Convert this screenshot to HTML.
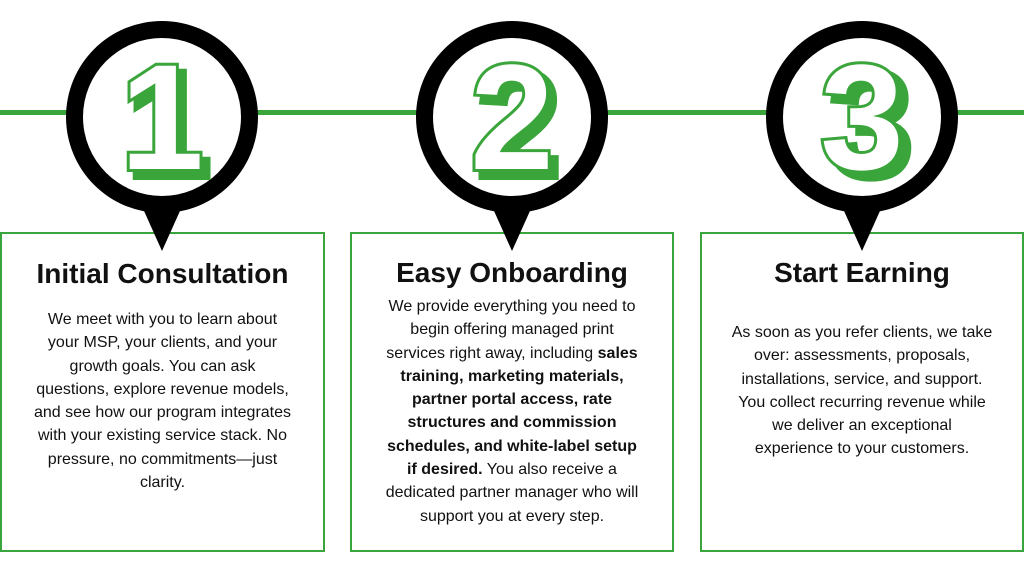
<!DOCTYPE html>
<html><head><style>
body{margin:0;width:1024px;height:576px;background:#fff;position:relative;overflow:hidden;font-family:"Liberation Sans",sans-serif;color:#111}
.box{position:absolute;top:232px;height:320px;border:2px solid #3aa53a;box-sizing:border-box}
.t{text-align:center;font-weight:bold;font-size:28px}
.b{position:absolute;text-align:center;font-size:16px;line-height:23.3px;white-space:nowrap}
</style></head><body>
<div style="position:absolute;left:0;top:110px;width:1024px;height:5px;background:#3aa53a"></div>
<div class="box" style="left:0;width:325px"></div>
<div class="box" style="left:350px;width:324px"></div>
<div class="box" style="left:700px;width:324px"></div>
<svg width="1024" height="260" style="position:absolute;left:0;top:0">
<g font-family="Liberation Sans" font-weight="bold" font-size="150" text-anchor="middle">
<g transform="translate(162,117)">
<circle r="96" fill="#000"/><polygon points="-22,85 22,85 0,134" fill="#000"/><circle r="79" fill="#fff"/>
<text x="7" y="59" fill="#3aa53a" stroke="#3aa53a" stroke-width="8">1</text><text x="0" y="52" fill="#fff" stroke="#3aa53a" stroke-width="6" paint-order="stroke">1</text></g>
<g transform="translate(512,117)">
<circle r="96" fill="#000"/><polygon points="-22,85 22,85 0,134" fill="#000"/><circle r="79" fill="#fff"/>
<text x="7" y="59" fill="#3aa53a" stroke="#3aa53a" stroke-width="8">2</text><text x="0" y="52" fill="#fff" stroke="#3aa53a" stroke-width="6" paint-order="stroke">2</text></g>
<g transform="translate(862,117)">
<circle r="96" fill="#000"/><polygon points="-22,85 22,85 0,134" fill="#000"/><circle r="79" fill="#fff"/>
<text x="9" y="59" fill="#3aa53a" stroke="#3aa53a" stroke-width="8">3</text><text x="0" y="52" fill="#fff" stroke="#3aa53a" stroke-width="6" paint-order="stroke">3</text></g>
</g></svg>
<div style="position:absolute;left:0;width:325px;top:258px" class="t">Initial Consultation</div>
<div class="b" style="left:0;width:325px;top:308px">We meet with you to learn about<br>your MSP, your clients, and your<br>growth goals. You can ask<br>questions, explore revenue models,<br>and see how our program integrates<br>with your existing service stack. No<br>pressure, no commitments—just<br>clarity.</div>
<div style="position:absolute;left:350px;width:324px;top:257px" class="t">Easy Onboarding</div>
<div class="b" style="left:350px;width:324px;top:295px">We provide everything you need to<br>begin offering managed print<br>services right away, including <b>sales<br>training, marketing materials,<br>partner portal access, rate<br>structures and commission<br>schedules, and white-label setup<br>if desired.</b> You also receive a<br>dedicated partner manager who will<br>support you at every step.</div>
<div style="position:absolute;left:700px;width:324px;top:257px" class="t">Start Earning</div>
<div class="b" style="left:700px;width:324px;top:321px">As soon as you refer clients, we take<br>over: assessments, proposals,<br>installations, service, and support.<br>You collect recurring revenue while<br>we deliver an exceptional<br>experience to your customers.</div>
</body></html>
